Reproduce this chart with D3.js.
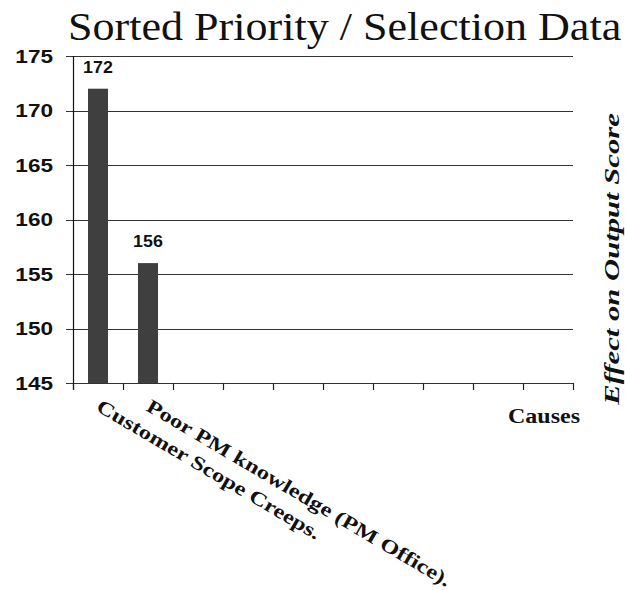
<!DOCTYPE html>
<html><head><meta charset="utf-8">
<script src="https://cdn.jsdelivr.net/npm/d3@7"></script>
<style>body{margin:0;background:#fff}</style>
</head><body><svg id="c" width="625" height="590"></svg>
<script>
const title = "Sorted Priority / Selection Data";
const categories = ["Customer Scope Creeps.", "Poor PM knowledge (PM Office).", "", "", "", "", "", "", "", ""];
const values = [172, 156, null, null, null, null, null, null, null, null];
const yTicks = [145, 150, 155, 160, 165, 170, 175];
const xAxisTitle = "Causes";
const yAxisTitle = "Effect on Output Score";

const svg = d3.select("#c");
const L = 73, R = 573, T = 56, B = 383;
const x = d3.scaleBand().domain(d3.range(categories.length)).range([L, R]).paddingInner(0.6).paddingOuter(0.3);
const y = d3.scaleLinear().domain([145, 175]).range([B, T]);
const serif = "'Liberation Serif','Times New Roman',serif";
const sans = "'Liberation Sans',Arial,sans-serif";

function stretch(sel, k) {
  sel.each(function () {
    const len = this.getComputedTextLength();
    d3.select(this).attr("textLength", len * k).attr("lengthAdjust", "spacingAndGlyphs");
  });
}

// gridlines
svg.append("g").selectAll("line").data(yTicks).join("line")
  .attr("x1", 66).attr("x2", R)
  .attr("y1", d => Math.round(y(d)) + 0.5).attr("y2", d => Math.round(y(d)) + 0.5)
  .attr("stroke", "#333").attr("stroke-width", 1.2);

// y axis line
svg.append("line").attr("x1", L + 0.5).attr("x2", L + 0.5).attr("y1", T).attr("y2", B + 7)
  .attr("stroke", "#111").attr("stroke-width", 1.2);

// x ticks at band boundaries
const step = x.step();
const x0 = x(0) - step * x.paddingInner() / 2;
svg.append("g").selectAll("line").data(d3.range(categories.length + 1)).join("line")
  .attr("x1", i => Math.round(x0 + i * step) + 0.5).attr("x2", i => Math.round(x0 + i * step) + 0.5)
  .attr("y1", B).attr("y2", B + 7).attr("stroke", "#222").attr("stroke-width", 1.2);

// bars
const data = categories.map((c, i) => ({ i, c, v: values[i] })).filter(d => d.v != null);
svg.append("g").selectAll("rect").data(data).join("rect")
  .attr("x", d => x(d.i)).attr("width", x.bandwidth())
  .attr("y", d => y(d.v)).attr("height", d => y(145) - y(d.v))
  .attr("fill", "#3f3f3f");

// value labels
svg.append("g").selectAll("text").data(data).join("text")
  .attr("x", d => x(d.i) + x.bandwidth() / 2).attr("y", d => y(d.v) - 16)
  .attr("text-anchor", "middle").attr("font-family", sans).attr("font-weight", "bold")
  .attr("font-size", 16.5).attr("fill", "#111").text(d => d.v)
  .call(stretch, 1.08);

// y tick labels
svg.append("g").selectAll("text").data(yTicks).join("text")
  .attr("x", 53).attr("y", d => y(d) + 6.5)
  .attr("text-anchor", "end").attr("font-family", sans).attr("font-weight", "bold")
  .attr("font-size", 18.5).attr("fill", "#111").text(d => d)
  .call(stretch, 1.22);

// category labels
svg.append("g").selectAll("text").data(categories.map((c, i) => ({ c, i })).filter(d => d.c)).join("text")
  .attr("transform", d => `translate(${x(d.i) + x.bandwidth() / 2 - 3},${B + 27}) rotate(30.5)`)
  .attr("font-family", serif).attr("font-weight", "bold").attr("font-size", 19.5)
  .attr("fill", "#111").text(d => d.c)
  .call(stretch, 1.26);

// title
svg.append("text").attr("x", 68).attr("y", 40).attr("font-family", serif)
  .attr("font-size", 39).attr("fill", "#111").text(title)
  .call(stretch, 1.13);

// x axis title
svg.append("text").attr("x", 580).attr("y", 423).attr("text-anchor", "end")
  .attr("font-family", serif).attr("font-weight", "bold").attr("font-size", 20)
  .attr("fill", "#111").text(xAxisTitle)
  .call(stretch, 1.2);

// y axis title (right side)
svg.append("text").attr("transform", "translate(619,259) rotate(-90)").attr("text-anchor", "middle")
  .attr("font-family", serif).attr("font-weight", "bold").attr("font-style", "italic")
  .attr("font-size", 21).attr("fill", "#111").text(yAxisTitle)
  .call(stretch, 1.46);
</script></body></html>
